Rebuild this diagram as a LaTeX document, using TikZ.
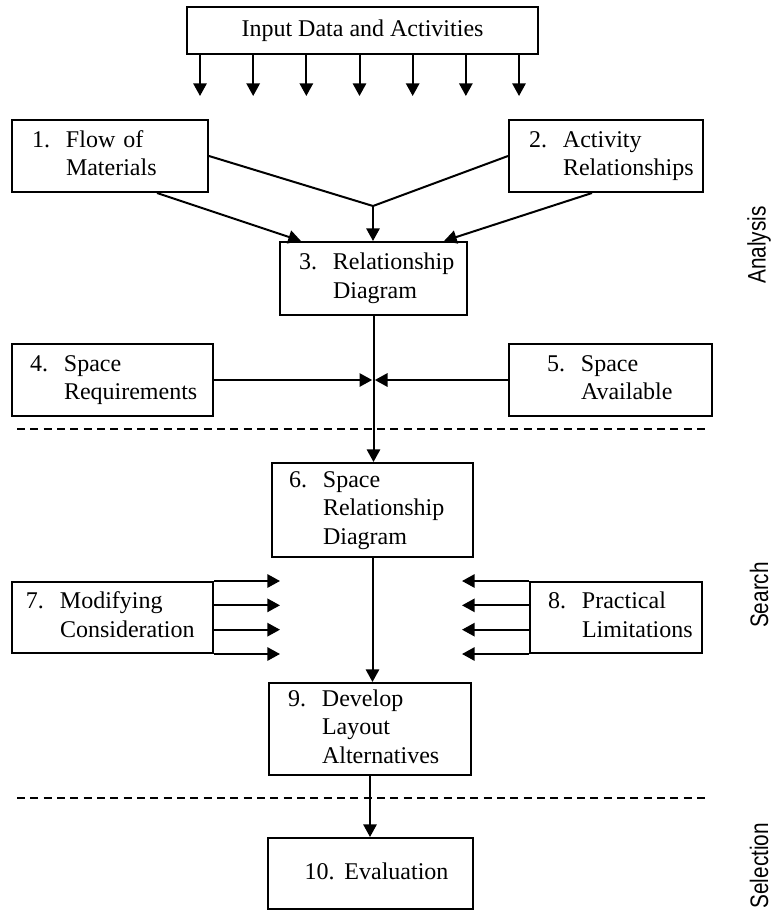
\documentclass[tikz,border=0pt]{standalone}
\usepackage{fontspec}
\setmainfont{Liberation Serif}
\newfontfamily\sidefamily{Liberation Sans}
\usepackage{graphicx}
\usetikzlibrary{arrows.meta, positioning, calc}
\newcommand{\stagefont}{\fontsize{18}{21.3}\selectfont}
\newcommand{\numbered}[3][25.5pt]{\makebox[#1][l]{#2}\begin{tabular}[t]{@{}l@{}}#3\end{tabular}}
\newcommand{\phasetext}[1]{\sidefamily\fontsize{19}{19}\selectfont\scalebox{0.82}[1]{#1}}
\tikzset{
  stage/.style={draw, line width=1.5pt, align=left, inner ysep=0pt, font=\stagefont},
  phase/.style={rotate=90, inner sep=0pt},
  sep/.style={line width=0.8pt, dash pattern=on 6pt off 4pt}
}

\begin{document}
\begin{tikzpicture}[x=0.75pt, y=-0.75pt, >={Triangle[length=9.5pt,width=10pt]}, line width=1.5pt]
\useasboundingbox (0,0) rectangle (772,914);
% input and analysis
\node[draw, font=\stagefont, minimum width=263.25pt, minimum height=35.25pt] (inp) at (362.5,30.5) {Input Data and Activities};
\foreach \i in {0,...,6}
  \draw[->] ($(inp.south west)+(14+53.17*\i,0)$) -- ++(0,41);
\node[stage, inner xsep=15pt, text width=117pt, minimum height=54pt] (s1) at (110,156) {\numbered{1.}{Flow of\\Materials}};
\node[stage, inner xsep=15pt, text width=115.5pt, minimum height=54pt, right=224.25pt of s1] (s2) {\numbered{2.}{Activity\\Relationships}};
\node[stage, inner xsep=14.25pt, text width=111.75pt, minimum height=54.75pt] (s3) at (373.5,278.5) {\numbered{3.}{Relationship\\Diagram}};
\coordinate (j) at (373,206);
\draw (s1.east) -- (j) -- (s2.west);
\draw[->] (j) -- (j |- s3.north);
\draw[->] ([xshift=35.25pt]s1.south) -- ([xshift=16.5pt]s3.north west);
\draw[->] ([xshift=-10.5pt]s2.south) -- ([xshift=-18pt]s3.north east);
\node[stage, inner xsep=13.5pt, text width=123.75pt, minimum height=54pt] (s4) at (112.5,380) {\numbered{4.}{Space\\Requirements}};
\node[stage, inner xsep=28.5pt, text width=95.25pt, minimum height=54pt, right=220.5pt of s4] (s5) {\numbered{5.}{Space\\Available}};
\coordinate (m) at (s3.south |- s4.east);
\draw[->] (s4.east) -- ([xshift=-1pt]m);
\draw[->] (s5.west) -- ([xshift=1pt]m);
\draw[sep] (17,429) -- (708,429);
% search
\node[stage, inner xsep=12.75pt, text width=125.25pt, minimum height=70.5pt] (s6) at (372.5,510) {\numbered{6.}{Space\\Relationship\\Diagram}};
\draw[->] (s3.south) -- (s3.south |- s6.north);
\node[stage, inner xsep=10.5pt, text width=129.75pt, minimum height=53.25pt] (s7) at (112.5,617.5) {\numbered{7.}{Modifying\\Consideration}};
\node[stage, inner xsep=13.5pt, text width=102pt, minimum height=53.25pt, right=236.25pt of s7] (s8) {\numbered{8.}{Practical\\Limitations}};
\foreach \i in {0,...,3} {
  \draw[->] ($(s7.north east)!\i/3!(s7.south east)$) -- ++(66,0);
  \draw[->] ($(s8.north west)!\i/3!(s8.south west)$) -- ++(-67,0);
}
\node[stage, inner xsep=14.25pt, text width=123pt, minimum height=69pt] (s9) at (370,729) {\numbered{9.}{Develop\\Layout\\Alternatives}};
\draw[->] (s6.south) -- (s6.south |- s9.north);
\draw[sep] (17,798) -- (708,798);
% selection
\node[stage, inner xsep=27.75pt, text width=98.25pt, minimum height=53.25pt, below=45.75pt of s9] (s10) {\numbered[30pt]{10.}{Evaluation}};
\draw[->] (s9.south) -- (s9.south |- s10.north);
\node[phase] (ana) at (759,245) {\phasetext{Analysis}};
\node[phase] (sea) at (759,595) {\phasetext{Search}};
\node[phase, anchor=east] (sel) at (759,822) {\phasetext{Selection}};
\end{tikzpicture}
\end{document}
